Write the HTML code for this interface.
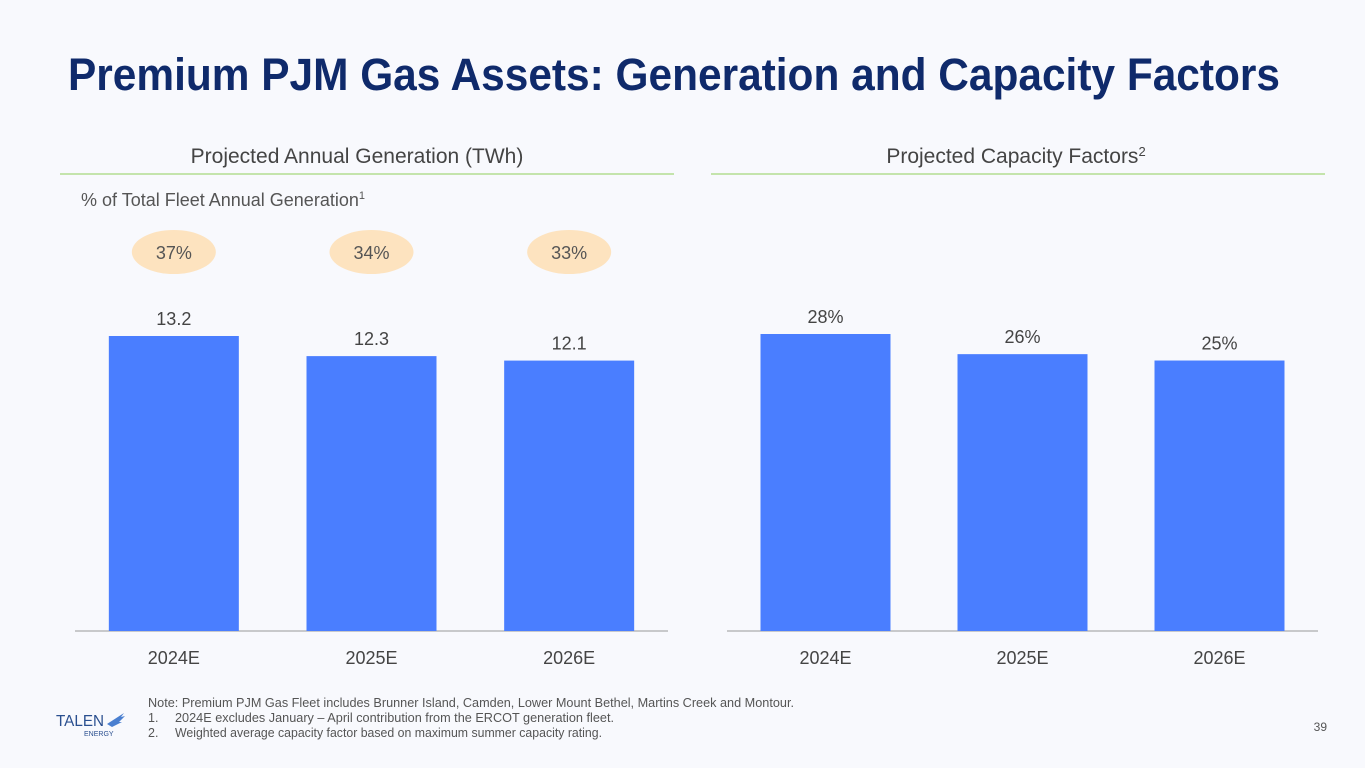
<!DOCTYPE html>
<html><head><meta charset="utf-8"><style>
body{margin:0;width:1365px;height:768px;background:#f8f9fd;font-family:"Liberation Sans",sans-serif;overflow:hidden;position:relative}
</style></head><body>
<svg width="1365" height="768" style="position:absolute;left:0;top:0">
<text x="68" y="90" font-size="45" font-weight="bold" fill="#0f2a6b" font-family="Liberation Sans Narrow, Liberation Sans, sans-serif" textLength="1212" lengthAdjust="spacingAndGlyphs">Premium PJM Gas Assets: Generation and Capacity Factors</text>
<text x="357" y="163" font-size="21" fill="#444" text-anchor="middle">Projected Annual Generation (TWh)</text>
<line x1="60" y1="174" x2="674" y2="174" stroke="#8fce5a" stroke-width="1"/>
<text x="1016" y="163" font-size="21" fill="#444" text-anchor="middle">Projected Capacity Factors<tspan font-size="13" dy="-7">2</tspan></text>
<line x1="711" y1="174" x2="1325" y2="174" stroke="#8fce5a" stroke-width="1"/>
<text x="81" y="206" font-size="18" fill="#555">% of Total Fleet Annual Generation<tspan font-size="11" dy="-7">1</tspan></text>
<g id="left"></g><g id="right"></g>
<text x="148" y="707" font-size="12.5" fill="#555" textLength="646" lengthAdjust="spacingAndGlyphs">Note: Premium PJM Gas Fleet includes Brunner Island, Camden, Lower Mount Bethel, Martins Creek and Montour.</text>
<text x="148" y="722" font-size="12.5" fill="#555">1.</text>
<text x="175" y="722" font-size="12.5" fill="#555" textLength="439" lengthAdjust="spacingAndGlyphs">2024E excludes January – April contribution from the ERCOT generation fleet.</text>
<text x="148" y="737" font-size="12.5" fill="#555">2.</text>
<text x="175" y="737" font-size="12.5" fill="#555" textLength="427" lengthAdjust="spacingAndGlyphs">Weighted average capacity factor based on maximum summer capacity rating.</text>
<g>
<text x="56" y="726" font-size="16" fill="#2a4f8f" textLength="48" lengthAdjust="spacingAndGlyphs">TALEN</text>
<text x="84" y="736" font-size="7" fill="#2a4f8f">ENERGY</text>
<path d="M107 724 L124 713 L121 717 L125 716 L119 722 L122 722 L112 727 Z" fill="#4a7fd0"/>
</g>
<text x="1327" y="731" font-size="12" fill="#555" text-anchor="end">39</text>
</svg>
<script>
const categories=["2024E","2025E","2026E"];
const genValues=[13.2,12.3,12.1];
const genLabels=["13.2","12.3","12.1"];
const shareLabels=["37%","34%","33%"];
const cfValues=[28,26.1,25.5];
const cfLabels=["28%","26%","25%"];
const NS="http://www.w3.org/2000/svg";
function el(g,t,a){const e=document.createElementNS(NS,t);for(const k in a)e.setAttribute(k,a[k]);g.appendChild(e);return e;}
function chart(gid,x0,x1,vals,labels,scale,bubbles){
 const g=document.getElementById(gid);const base=631;const step=(x1-x0)/3;const bw=130;
 const ax=el(g,'line',{x1:x0,y1:base,x2:x1,y2:base,stroke:'#999','stroke-width':1});
 
 
 vals.forEach((v,i)=>{
  const cx=x0+step*(i+0.5);const h=v*scale;
  const r=el(g,'rect',{x:cx-bw/2,y:base-h,width:bw,height:h,fill:'#4a7eff'});
  
  
  const t=el(g,'text',{x:cx,y:base-h-11,'font-size':18,fill:'#444','text-anchor':'middle'});t.textContent=labels[i];
  
  
  const c=el(g,'text',{x:cx,y:664,'font-size':18,fill:'#444','text-anchor':'middle'});c.textContent=categories[i];
  
  
  if(bubbles){
   const e=el(g,'ellipse',{cx:cx,cy:252,rx:42,ry:22,fill:'#fde3bf'});
   
   
   const bt=el(g,'text',{x:cx,y:259,'font-size':18,fill:'#555','text-anchor':'middle'});bt.textContent=bubbles[i];
   
   
  }
 });
}
chart('left',75,668,genValues,genLabels,295/13.2,shareLabels);
chart('right',727,1318,cfValues,cfLabels,297/28,null);
</script>
</body></html>
